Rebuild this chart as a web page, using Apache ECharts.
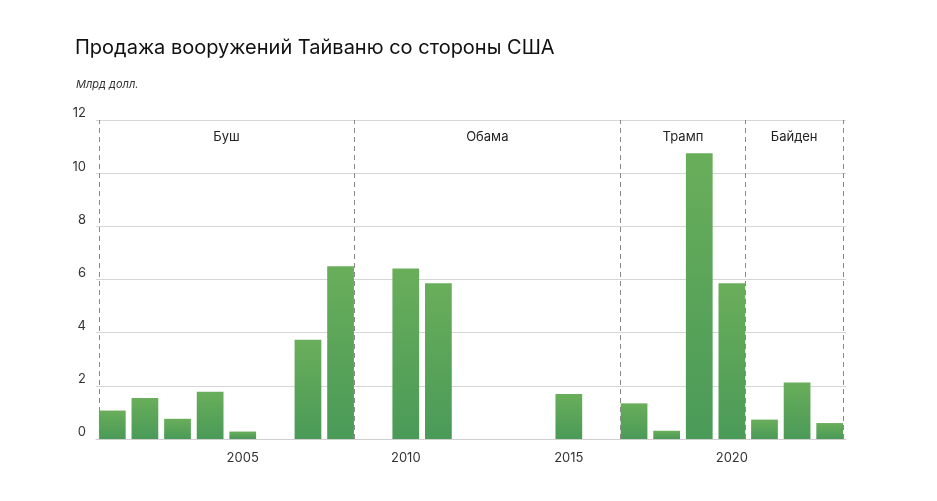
<!DOCTYPE html>
<html>
<head>
<meta charset="utf-8">
<script src="https://cdn.jsdelivr.net/npm/echarts@6/dist/echarts.min.js"></script>
<style>
html,body{margin:0;padding:0;background:#fff;}
#chart{width:937px;height:501px;}
</style>
</head>
<body>
<div id="chart"></div>
<script>
// ---- data ----
var years = [2001,2002,2003,2004,2005,2006,2007,2008,2009,2010,2011,2012,2013,2014,2015,2016,2017,2018,2019,2020,2021,2022,2023];
var sales = [1.07,1.54,0.76,1.78,0.28,0,3.73,6.5,0,6.41,5.86,0,0,0,1.69,0,1.34,0.31,10.75,5.86,0.73,2.13,0.6];
var yTicks = [0,2,4,6,8,10,12];
var presidents = ['Буш','Обама','Трамп','Байден'];
var termStart = [2001,2009,2017,2021];
var termEnd = [2008,2016,2020,2023];
var titleText = 'Продажа вооружений Тайваню со стороны США';
var unitText = 'Млрд долл.';

var FONT = 'Inter';
var half = 0.41; // half bar width as category fraction
function leftEdge(y){return y - half;}
function rightEdge(y){return y + half;}
var bounds = [leftEdge(termStart[0]), rightEdge(termEnd[0]), leftEdge(termStart[2]), rightEdge(termEnd[2]), rightEdge(termEnd[3])];
var regions = [
  [bounds[0], bounds[1]],
  [bounds[1], bounds[2]],
  [bounds[2], bounds[3]],
  [bounds[3], bounds[4]]
];

var chart = echarts.init(document.getElementById('chart'));
chart.setOption({
  animation:false,
  backgroundColor:'#fff',
  title:[
    {text:titleText,left:70,top:33,textStyle:{fontFamily:FONT,fontSize:20,fontWeight:'normal',color:'#111'}},
    {text:unitText,left:71,top:74,textStyle:{fontFamily:FONT,fontSize:11,fontStyle:'italic',fontWeight:'normal',color:'#333'}}
  ],
  grid:{left:96,right:91,top:120,bottom:62,containLabel:false},
  xAxis:[
    {type:'category',data:years,boundaryGap:true,
     axisLine:{show:true,lineStyle:{color:'#cfcfcf',width:1}},
     axisTick:{show:false},
     axisLabel:{interval:0,margin:13,fontFamily:FONT,fontSize:13,color:'#333',
       formatter:function(v){return (Number(v)%5===0)?String(v):'';}},
     splitLine:{show:false}},
    {type:'value',min:years[0]-0.5,max:years[years.length-1]+0.5,show:false,splitLine:{show:false}}
  ],
  yAxis:{type:'value',min:yTicks[0],max:yTicks[yTicks.length-1],interval:2,
    axisLine:{show:false},axisTick:{show:false},
    axisLabel:{margin:10,fontFamily:FONT,fontSize:13,color:'#333',verticalAlign:'bottom',padding:[0,0,0,0]},
    splitLine:{lineStyle:{color:'#d6d6d6',width:1}}},
  series:[
    {type:'bar',data:sales,xAxisIndex:0,barWidth:'82%',
     itemStyle:{color:new echarts.graphic.LinearGradient(0,0,0,1,[{offset:0,color:'#69ae5a'},{offset:1,color:'#4a9a58'}]),
       borderWidth:0}},
    {type:'scatter',xAxisIndex:1,data:[],silent:true,
     markLine:{silent:true,symbol:['none','none'],label:{show:false},
       lineStyle:{color:'#8a8a8a',type:[5,4],width:1},
       data:bounds.map(function(b){return {xAxis:b};})},
     markArea:{silent:true,itemStyle:{color:'rgba(0,0,0,0)'},
       label:{show:true,position:'insideTop',distance:11,fontFamily:FONT,fontSize:13,color:'#222'},
       data:regions.map(function(r,i){return [{xAxis:r[0],yAxis:yTicks[yTicks.length-1],name:presidents[i]},{xAxis:r[1],yAxis:yTicks[0]}];})}
    }
  ]
});
</script>
</body>
</html>
